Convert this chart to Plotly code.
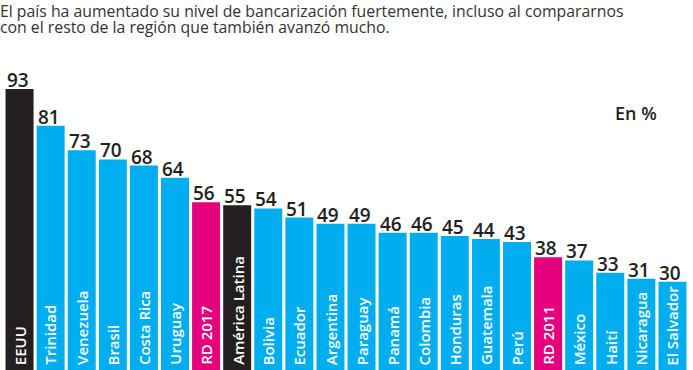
import plotly.graph_objects as go

categories = ["EEUU", "Trinidad", "Venezuela", "Brasil", "Costa Rica", "Uruguay", "RD 2017",
              "América Latina", "Bolivia", "Ecuador", "Argentina", "Paraguay", "Panamá",
              "Colombia", "Honduras", "Guatemala", "Perú", "RD 2011", "México", "Haití",
              "Nicaragua", "El Salvador"]
values = [93, 81, 73, 70, 68, 64, 56, 55, 54, 51, 49, 49, 46, 46, 45, 44, 43, 38, 37, 33, 31, 30]
highlight = {"EEUU": "#231F20", "América Latina": "#231F20", "RD 2017": "#E5007D", "RD 2011": "#E5007D"}
base_color = "#00AEEF"
colors = [highlight.get(c, base_color) for c in categories]

title_lines = ["El país ha aumentado su nivel de bancarización fuertemente, incluso al compararnos",
               "con el resto de la región que también avanzó mucho."]
unit_label = "En %"

TFONT = "Open Sans"

fig = go.Figure()
fig.add_trace(go.Bar(x=categories, y=values, marker=dict(color=colors, line=dict(width=0)),
                     hoverinfo="skip"))

ann = []
for c, v in zip(categories, values):
    ann.append(dict(x=c, y=v, xref="x", yref="y", text=str(v), showarrow=False,
                    yanchor="bottom", xanchor="center", yshift=-6, xshift=-2,
                    font=dict(family=TFONT, size=19, weight=600, color="#231F20")))
    ann.append(dict(x=c, y=2.1, xref="x", yref="y", text=c, showarrow=False, textangle=-90,
                    yanchor="bottom", xanchor="center",
                    font=dict(family=TFONT, size=15, weight=600, color="white")))

ann.append(dict(x=0, y=1, xref="paper", yref="paper", text=title_lines[0], showarrow=False,
                xanchor="left", yanchor="top", xshift=-6, yshift=2,
                font=dict(family=TFONT, size=15.8, color="#333333")))
ann.append(dict(x=0, y=1, xref="paper", yref="paper", text=title_lines[1], showarrow=False,
                xanchor="left", yanchor="top", xshift=-6, yshift=-14,
                font=dict(family=TFONT, size=15.8, color="#333333")))
ann.append(dict(x=1, y=1, xref="paper", yref="paper", text=unit_label, showarrow=False,
                xanchor="right", yanchor="middle", xshift=-29, yshift=-113,
                font=dict(family=TFONT, size=18, weight=600, color="#231F20")))

fig.update_layout(
    width=693, height=370,
    margin=dict(l=4, r=5, t=0, b=0),
    paper_bgcolor="white", plot_bgcolor="white",
    bargap=0.1, showlegend=False,
    xaxis=dict(visible=False, range=[-0.5, len(categories) - 0.5]),
    yaxis=dict(visible=False, range=[1.18, 122.1]),
    annotations=ann,
)
fig.write_html("out.html", config={"displayModeBar": False},
               post_script="document.body.style.margin='0';document.body.style.overflow='hidden';")
